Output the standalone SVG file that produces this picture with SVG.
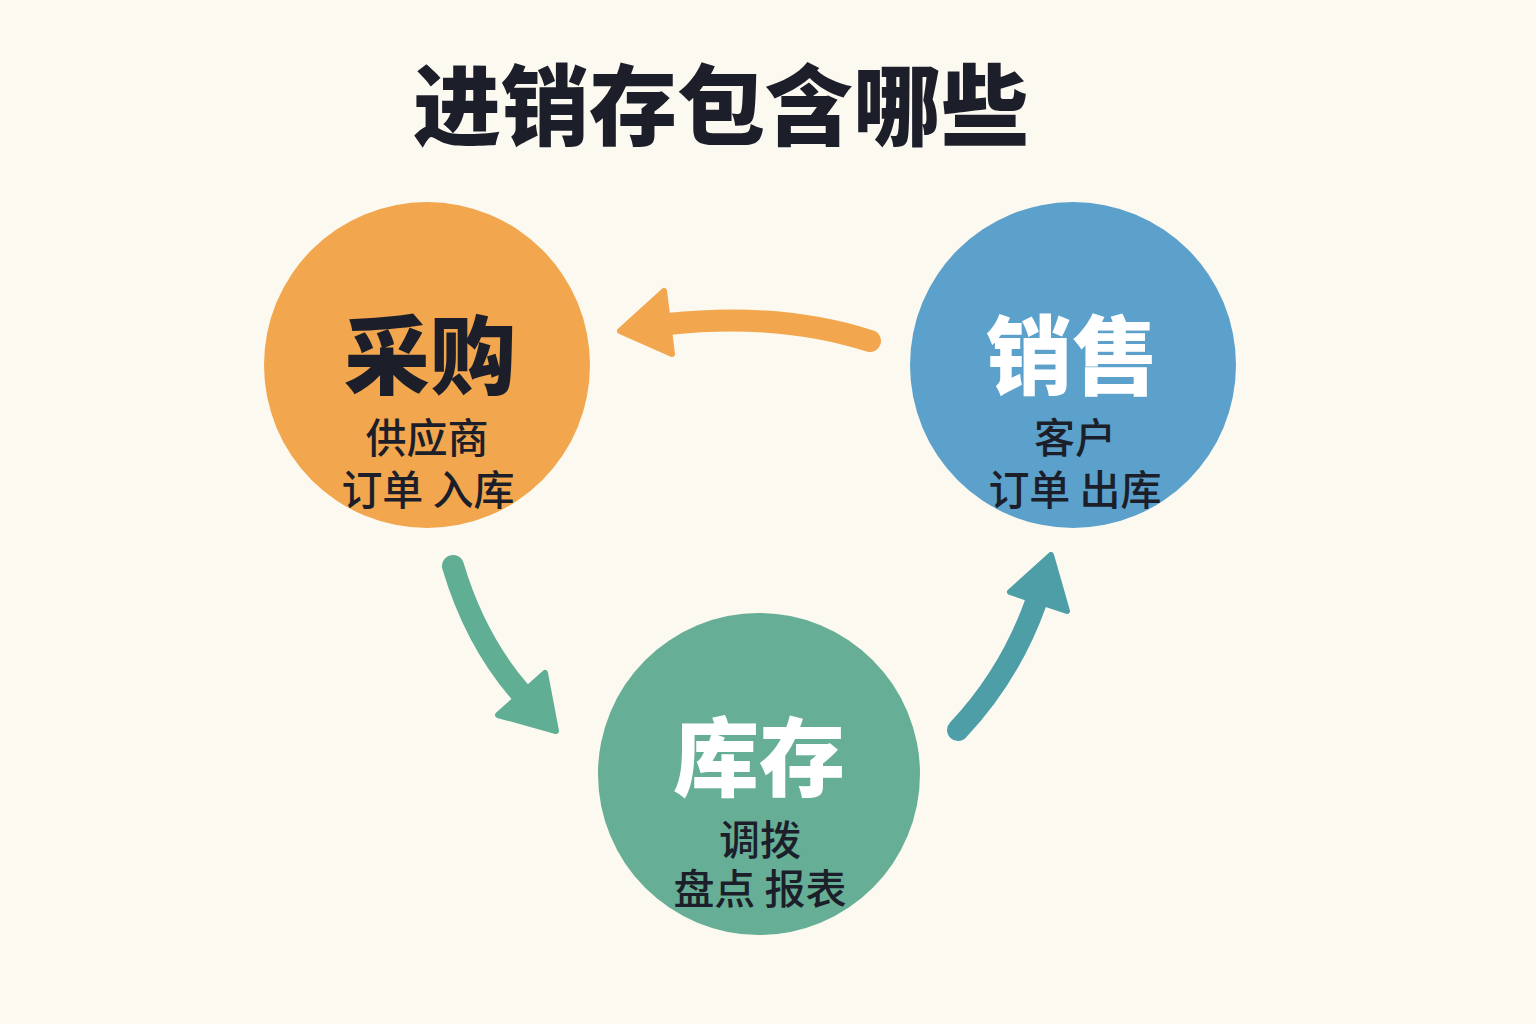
<svg xmlns="http://www.w3.org/2000/svg" width="1536" height="1024" viewBox="0 0 1536 1024">
<style>
.title{font-family:"Noto Sans CJK SC","Noto Sans",sans-serif;font-weight:800;font-size:88px;fill:#1c1f2a;text-anchor:middle}
.lbl{font-family:"Noto Sans CJK SC","Noto Sans",sans-serif;text-anchor:middle}
.big{font-weight:900;font-size:86px}
.sub{font-weight:500;font-size:41px;fill:#1c1f2a}
.arr{fill:none;stroke-width:22;stroke-linecap:round}
.head{stroke-width:6;stroke-linejoin:round}
</style>
<rect width="1536" height="1024" fill="#fcf9f0"/>
<text class="title" x="721" y="138">进销存包含哪些</text>
<g id="connectors">
  <g id="arrow-sales-purchase">
    <path class="arr" stroke="#f2a64e" d="M870 341 Q780 312 668 324"/>
    <polygon class="head" fill="#f2a64e" stroke="#f2a64e" points="620,331 664,291 672,354"/>
  </g>
  <g id="arrow-purchase-stock">
    <path class="arr" stroke="#60ae94" d="M453 566 Q475 640 520 692"/>
    <polygon class="head" fill="#60ae94" stroke="#60ae94" points="556,731 498,715 545,673"/>
  </g>
  <g id="arrow-stock-sales">
    <path class="arr" stroke="#4e9ea8" d="M958 730 Q1010 675 1036 602"/>
    <polygon class="head" fill="#4e9ea8" stroke="#4e9ea8" points="1051,555 1010,592 1067,611"/>
  </g>
</g>
<g id="node-purchase">
  <circle cx="427" cy="365" r="163" fill="#f2a64e"/>
  <text class="lbl"><tspan class="big" x="430" y="388" fill="#1c1f2a">采购</tspan><tspan class="sub" x="427" y="453">供应商</tspan><tspan class="sub" x="428" y="505">订单 入库</tspan></text>
</g>
<g id="node-sales">
  <circle cx="1073" cy="365" r="163" fill="#5ba1cb"/>
  <text class="lbl"><tspan class="big" x="1072" y="388" fill="#ffffff">销售</tspan><tspan class="sub" x="1075" y="453">客户</tspan><tspan class="sub" x="1075" y="505">订单 出库</tspan></text>
</g>
<g id="node-stock">
  <circle cx="759" cy="774" r="161" fill="#66ae95"/>
  <text class="lbl"><tspan class="big" x="759" y="790" fill="#ffffff">库存</tspan><tspan class="sub" x="760" y="855">调拨</tspan><tspan class="sub" x="760" y="904">盘点 报表</tspan></text>
</g>
</svg>
